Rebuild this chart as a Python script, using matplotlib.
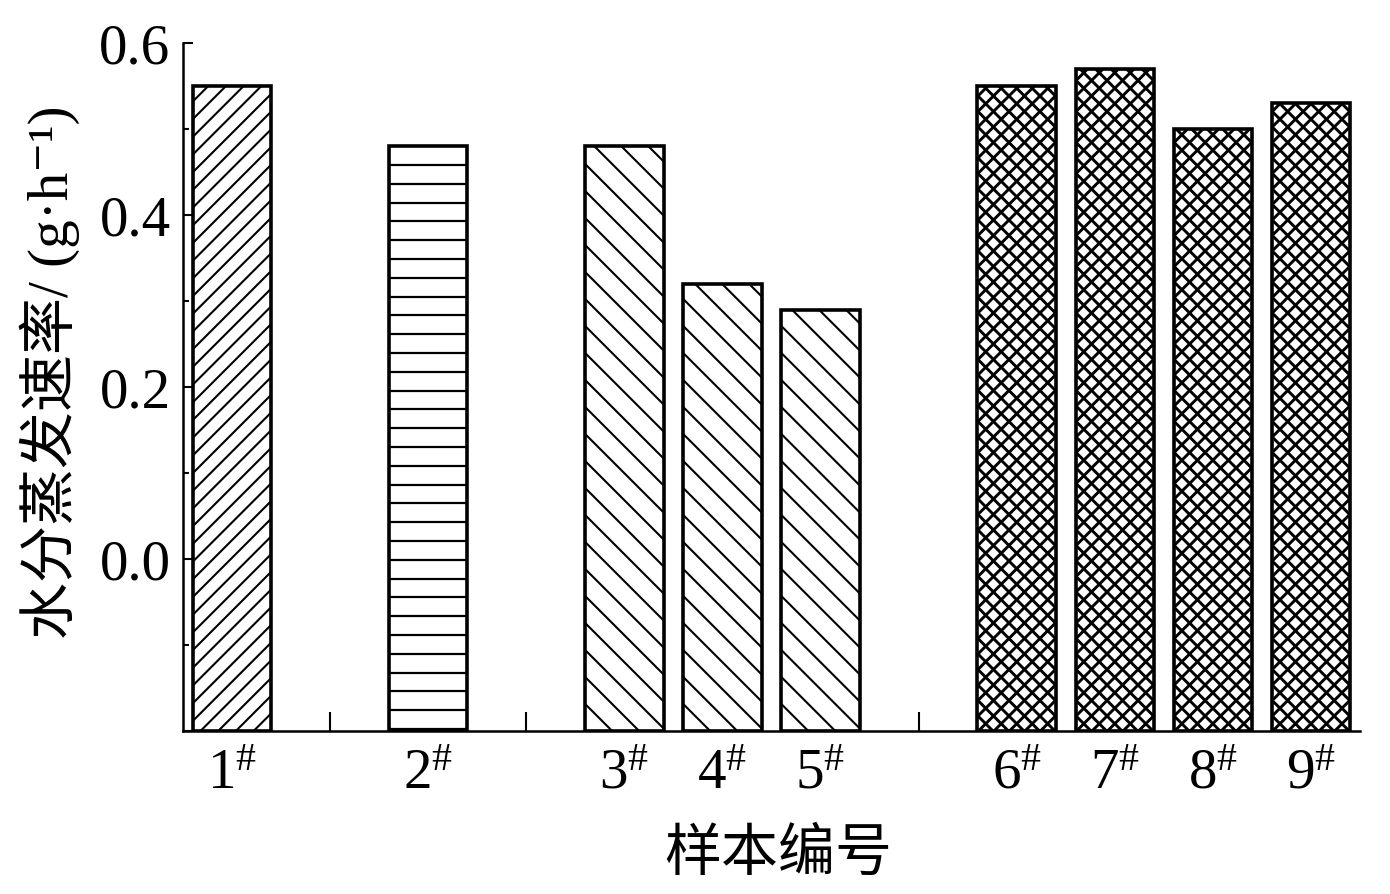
import numpy as np
import matplotlib
matplotlib.use('Agg')
import matplotlib.pyplot as plt
from matplotlib.collections import LineCollection

# ==========================================
# Datos
# ==========================================
muestras = ['1', '2', '3', '4', '5', '6', '7', '8', '9']
posiciones = [0, 2, 4, 5, 6, 8, 9, 10, 11]
tasa_evaporacion = [0.55, 0.48, 0.48, 0.32, 0.29, 0.55, 0.57, 0.50, 0.53]
grupo = ['a', 'b', 'c', 'c', 'c', 'd', 'd', 'd', 'd']

# estilo de trama por grupo: (direcciones, separación en px, grosor)
tramas = {
    'a': (['/'], 17.7, 1.5),
    'b': (['-'], 18.8, 1.6),
    'c': (['\\'], 27.0, 1.5),
    'd': (['/', '\\'], 15.5, 2.1),
}

plt.rcParams['font.family'] = ['Liberation Serif', 'Noto Sans CJK SC', 'DejaVu Serif']
plt.rcParams['mathtext.default'] = 'regular'

W_PX, H_PX = 1390, 895
fig = plt.figure(figsize=(W_PX / 100, H_PX / 100), dpi=100)
L, R, T, B = 183 / W_PX, 1360 / W_PX, 1 - 44 / H_PX, 1 - 732 / H_PX
ax = fig.add_axes([L, B, R - L, T - B])

x_lim = (-0.5, 11.5)
y_lim = (-0.2, 0.6)
ax.set_xlim(*x_lim)
ax.set_ylim(*y_lim)

# px por unidad de datos
sx = (R - L) * W_PX / (x_lim[1] - x_lim[0])
sy = (T - B) * H_PX / (y_lim[1] - y_lim[0])


def tramar(ax, barra, direcciones, sep, lw):
    """Dibuja la trama manualmente (en px) recortada a la barra."""
    X0 = barra.get_x() * sx
    X1 = (barra.get_x() + barra.get_width()) * sx
    Y0 = barra.get_y() * sy
    Y1 = (barra.get_y() + barra.get_height()) * sy
    segs = []
    for d in direcciones:
        if d == '/':
            for c in np.arange(Y0 - X1, Y1 - X0 + sep, sep):
                segs.append([(X0, X0 + c), (X1, X1 + c)])
        elif d == '\\':
            for c in np.arange(Y0 + X0, Y1 + X1 + sep, sep):
                segs.append([(X0, c - X0), (X1, c - X1)])
        elif d == '-':
            for yy in np.arange(Y1 - sep, Y0, -sep):
                segs.append([(X0, yy), (X1, yy)])
    segs = [[(px / sx, py / sy) for px, py in s] for s in segs]
    lc = LineCollection(segs, colors='black', linewidths=lw, zorder=3)
    ax.add_collection(lc)
    lc.set_clip_path(barra)


barras = ax.bar(posiciones, np.array(tasa_evaporacion) - y_lim[0], bottom=y_lim[0],
                width=0.8, color='white', edgecolor='black', linewidth=2.6, zorder=2)
for barra, g in zip(barras, grupo):
    dirs, sep, lw = tramas[g]
    tramar(ax, barra, dirs, sep, lw)

# ejes
for lado in ['top', 'right']:
    ax.spines[lado].set_visible(False)
for lado in ['left', 'bottom']:
    ax.spines[lado].set_linewidth(1.8)

ax.set_xticks(range(12))
etiquetas = [''] * 12
for p, m in zip(posiciones, muestras):
    etiquetas[p] = r'$\mathregular{' + m + r'^{\#}}$'
ax.set_xticklabels(etiquetas)
ax.tick_params(axis='x', direction='in', length=13.5, width=1.5, labelsize=41, pad=12)

ax.set_yticks([-0.2, 0.0, 0.2, 0.4, 0.6])
ax.set_yticklabels(['', '0.0', '0.2', '0.4', '0.6'])
ax.set_yticks([-0.1, 0.1, 0.3, 0.5], minor=True)
ax.tick_params(axis='y', which='major', direction='in', length=7, width=1.5, labelsize=41, pad=9)
ax.tick_params(axis='y', which='minor', direction='in', length=4.5, width=1.5)

fig.text(778 / W_PX, 1 - 855 / H_PX, '样本编号', ha='center', va='center', fontsize=41)
fig.text(50 / W_PX, 1 - 372 / H_PX, '水分蒸发速率/ (g·h⁻¹)', ha='center', va='center',
         rotation=90, fontsize=41)

plt.savefig('out.png', dpi=100)
